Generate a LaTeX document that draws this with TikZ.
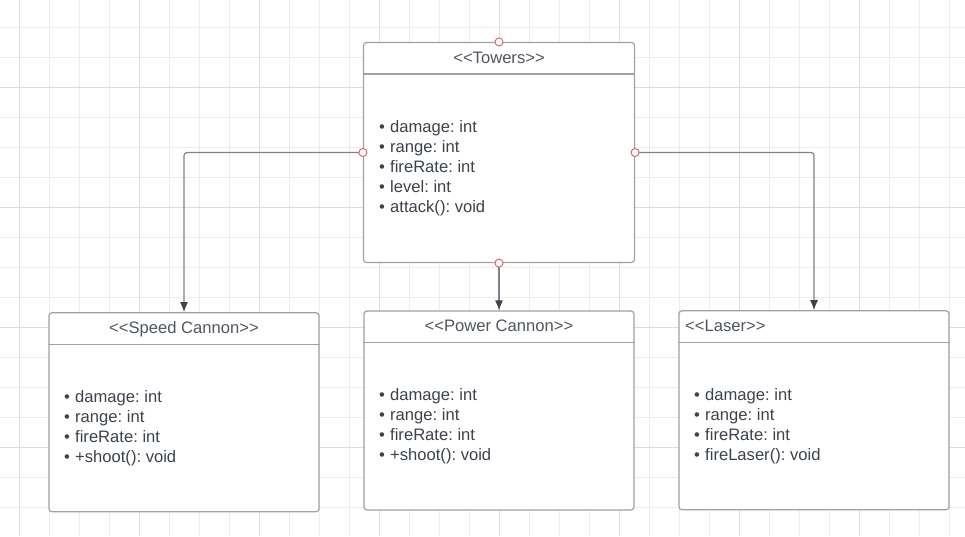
\documentclass[tikz,border=0pt]{standalone}
\usepackage{fontspec}
\setmainfont{Liberation Sans}
\usetikzlibrary{arrows.meta}
\frenchspacing

\definecolor{gridminor}{HTML}{EDEDED}
\definecolor{gridmajor}{HTML}{DCDCDC}
\definecolor{boxgray}{HTML}{9EA2A7}
\definecolor{inkdark}{HTML}{3D434B}
\definecolor{titlegray}{HTML}{50565D}
\definecolor{portred}{HTML}{E2576A}
\definecolor{linkgray}{HTML}{7D8288}

\begin{document}
\begin{tikzpicture}[x=1pt, y=-1pt,
    umlbox/.style={draw=boxgray, line width=1.2pt, fill=white, rounded corners=3pt,
        inner sep=0pt, minimum width=270pt, minimum height=199pt},
    classtitle/.style={text=titlegray, font=\fontsize{16.6}{20}\selectfont, inner sep=0pt},
    member/.style={text=inkdark, font=\fontsize{16.6}{20}\selectfont, inner sep=0pt, anchor=base west},
    divider/.style={draw=boxgray, line width=1.2pt},
    inherit/.style={draw=linkgray, line width=1.2pt, rounded corners=3pt,
        -{Latex[length=10pt, width=8pt, color=inkdark]}},
    port/.style={circle, draw=portred, fill=white, line width=0.9pt, minimum size=8pt, inner sep=0pt}]

    \useasboundingbox (0,0) rectangle (965,536);

    % background grid
    \foreach \gx in {19.5,49.5,...,949.5}
        \draw[gridminor, line width=1pt] (\gx,0) -- (\gx,536);
    \foreach \gy in {27,57,...,507}
        \draw[gridminor, line width=1pt] (0,\gy) -- (965,\gy);
    \foreach \gx in {19.5,139.5,...,859.5}
        \draw[gridmajor, line width=1pt] (\gx,0) -- (\gx,536);
    \foreach \gy in {87,207,...,447}
        \draw[gridmajor, line width=1pt] (0,\gy) -- (965,\gy);

    % classes
    \node[umlbox, minimum width=271pt, minimum height=220pt] (towers) at (499,152.5) {};
    \node[umlbox] (speed) at (184,412.2) {};
    \node[umlbox] (power) at (499,410.5) {};
    \node[umlbox] (laser) at (814,410.3) {};

    \draw[divider] ([yshift=-32pt]towers.north west) -- ([yshift=-32pt]towers.north east);
    \draw[divider] ([yshift=-32pt]speed.north west) -- ([yshift=-32pt]speed.north east);
    \draw[divider] ([yshift=-32pt]power.north west) -- ([yshift=-32pt]power.north east);
    \draw[divider] ([yshift=-32pt]laser.north west) -- ([yshift=-32pt]laser.north east);

    \node[classtitle, anchor=base] (towers-title) at (499,63) {{<}{<}Towers{>}{>}};
    \node[classtitle, anchor=base] (speed-title) at (184,333) {{<}{<}Speed Cannon{>}{>}};
    \node[classtitle, anchor=base] (power-title) at (499,331) {{<}{<}Power Cannon{>}{>}};
    \node[classtitle, anchor=base west] (laser-title) at (685,331) {{<}{<}Laser{>}{>}};

    % members
    \foreach \m [count=\i] in {damage: int, range: int, fireRate: int, level: int, attack(): void}
        \node[member] (towers-\i) at (379,112.5+20*\i) {\makebox[11pt][l]{•}\m};
    \foreach \m [count=\i] in {damage: int, range: int, fireRate: int, +shoot(): void}
        \node[member] (speed-\i) at (64,382+20*\i) {\makebox[11pt][l]{•}\m};
    \foreach \m [count=\i] in {damage: int, range: int, fireRate: int, +shoot(): void}
        \node[member] (power-\i) at (379,380+20*\i) {\makebox[11pt][l]{•}\m};
    \foreach \m [count=\i] in {damage: int, range: int, fireRate: int, fireLaser(): void}
        \node[member] (laser-\i) at (694,380.5+20*\i) {\makebox[11pt][l]{•}\m};

    % inheritance links
    \draw[inherit] (towers.west) -| (speed.north);
    \draw[inherit] (towers.south) -- (power.north);
    \draw[inherit] (towers.east) -| (laser.north);

    \foreach \a in {north, west, east, south}
        \node[port] (port-\a) at (towers.\a) {};
\end{tikzpicture}
\end{document}
